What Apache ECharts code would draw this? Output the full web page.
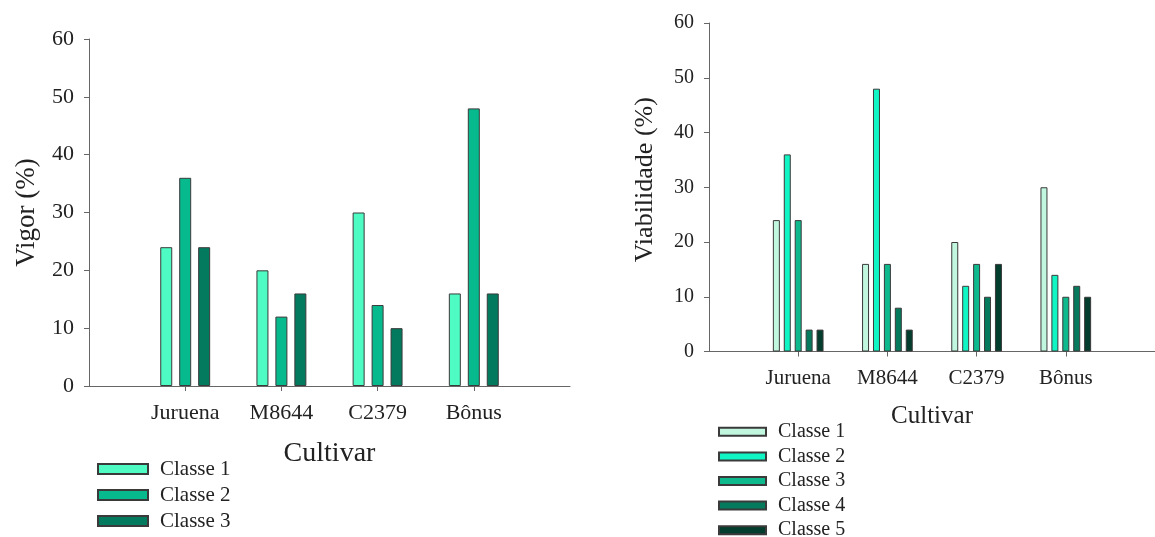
<!DOCTYPE html>
<html>
<head>
<meta charset="utf-8">
<script src="https://cdn.jsdelivr.net/npm/echarts@6/dist/echarts.min.js"></script>
<style>
html,body{margin:0;padding:0;background:#fff;}
#c1{position:absolute;left:0;top:0;width:600px;height:537px;}
#c2{position:absolute;left:600px;top:0;width:555px;height:537px;}
</style>
</head>
<body>
<div id="c1"></div>
<div id="c2"></div>
<script>
// ---- data ----
const cultivars = ['Juruena', 'M8644', 'C2379', 'Bônus'];
const yTicks = [0, 10, 20, 30, 40, 50, 60];

// Vigor (%)
const vigorClasse1 = [24, 20, 30, 16];
const vigorClasse2 = [36, 12, 14, 48];
const vigorClasse3 = [24, 16, 10, 16];

// Viabilidade (%)
const viabClasse1 = [24, 16, 20, 30];
const viabClasse2 = [36, 48, 12, 14];
const viabClasse3 = [24, 16, 16, 10];
const viabClasse4 = [4, 8, 10, 12];
const viabClasse5 = [4, 4, 16, 10];

const seriesNames = ['Classe 1', 'Classe 2', 'Classe 3', 'Classe 4', 'Classe 5'];

// ---- styling helpers ----
const FONT = 'Liberation Serif';
const TXT = '#222';
const AX = '#666';
const padCats = [''].concat(cultivars, ['']);
const pad = arr => [null].concat(arr, [null]);
const tickFilter = (i) => i > 0 && i < padCats.length - 1;

function makeOption(cfg) {
  return {
    animation: false,
    grid: cfg.grid,
    xAxis: {
      type: 'category',
      data: padCats,
      boundaryGap: false,
      name: 'Cultivar',
      nameLocation: 'middle',
      nameGap: cfg.xNameGap,
      nameTextStyle: {fontFamily: FONT, fontSize: cfg.xTitleSize, color: TXT},
      axisLine: {lineStyle: {color: AX, width: 1}},
      axisTick: {show: true, length: 5, interval: tickFilter, alignWithLabel: true, lineStyle: {color: AX}},
      axisLabel: {interval: tickFilter, margin: cfg.xLabelMargin, fontFamily: FONT, fontSize: cfg.labelSize, color: TXT},
      splitLine: {show: false}
    },
    yAxis: {
      type: 'value',
      min: yTicks[0],
      max: yTicks[yTicks.length - 1],
      interval: 10,
      name: cfg.yName,
      nameLocation: 'middle',
      nameGap: cfg.yNameGap,
      nameTextStyle: {fontFamily: FONT, fontSize: cfg.yTitleSize, color: TXT, padding: cfg.yNamePad || 0},
      axisLine: {show: true, lineStyle: {color: AX, width: 1}},
      axisTick: {show: true, length: 5, lineStyle: {color: AX}},
      axisLabel: {margin: cfg.yLabelMargin, fontFamily: FONT, fontSize: cfg.yLabelSize, color: TXT},
      splitLine: {show: false}
    },
    legend: {
      orient: 'vertical',
      left: cfg.legend.left,
      top: cfg.legend.top,
      height: 300,
      padding: 0,
      itemWidth: cfg.legend.w,
      itemHeight: cfg.legend.h,
      itemGap: 0,
      icon: 'rect',
      selectedMode: false,
      textStyle: {fontFamily: FONT, fontSize: cfg.legend.fs, color: TXT, lineHeight: cfg.legend.lh, padding: [0, 0, 0, 7]},
      data: cfg.series.map(s => s.name)
    },
    series: cfg.series.map(s => ({
      type: 'bar',
      name: s.name,
      data: pad(s.data),
      barWidth: cfg.barWidth,
      barGap: cfg.barGap,
      itemStyle: {color: s.color, borderColor: '#3a3a3a', borderWidth: 1}
    }))
  };
}

const c1 = echarts.init(document.getElementById('c1'), null, {renderer: 'canvas'});
c1.setOption(makeOption({
  grid: {left: 89, top: 39, width: 481, height: 347},
  yName: 'Vigor (%)',
  yNameGap: 49,
  xNameGap: 54,
  xTitleSize: 28,
  yTitleSize: 27,
  labelSize: 22,
  yLabelSize: 22,
  xLabelMargin: 16,
  yLabelMargin: 15,
  barWidth: 12,
  barGap: '58%',
  legend: {left: 97, top: 456, w: 50, h: 10, lh: 26, fs: 21},
  series: [
    {name: seriesNames[0], data: vigorClasse1, color: '#4DFBC3'},
    {name: seriesNames[1], data: vigorClasse2, color: '#07BA8E'},
    {name: seriesNames[2], data: vigorClasse3, color: '#037A5E'}
  ]
}));

const c2 = echarts.init(document.getElementById('c2'), null, {renderer: 'canvas'});
c2.setOption(makeOption({
  grid: {left: 109, top: 23, width: 454, height: 328.5},
  yName: 'Viabilidade (%)',
  yNameGap: 51,
  yNamePad: [0, 0, 0, 15],
  xNameGap: 52,
  xTitleSize: 25,
  yTitleSize: 26,
  labelSize: 21,
  yLabelSize: 20,
  xLabelMargin: 16,
  yLabelMargin: 15,
  barWidth: 7,
  barGap: '56%',
  legend: {left: 118, top: 419.5, w: 47, h: 8, lh: 24.6, fs: 20},
  series: [
    {name: seriesNames[0], data: viabClasse1, color: '#C2F7DF'},
    {name: seriesNames[1], data: viabClasse2, color: '#0FF5C3'},
    {name: seriesNames[2], data: viabClasse3, color: '#0DB98D'},
    {name: seriesNames[3], data: viabClasse4, color: '#057A5C'},
    {name: seriesNames[4], data: viabClasse5, color: '#023D2D'}
  ]
}));
</script>
</body>
</html>
